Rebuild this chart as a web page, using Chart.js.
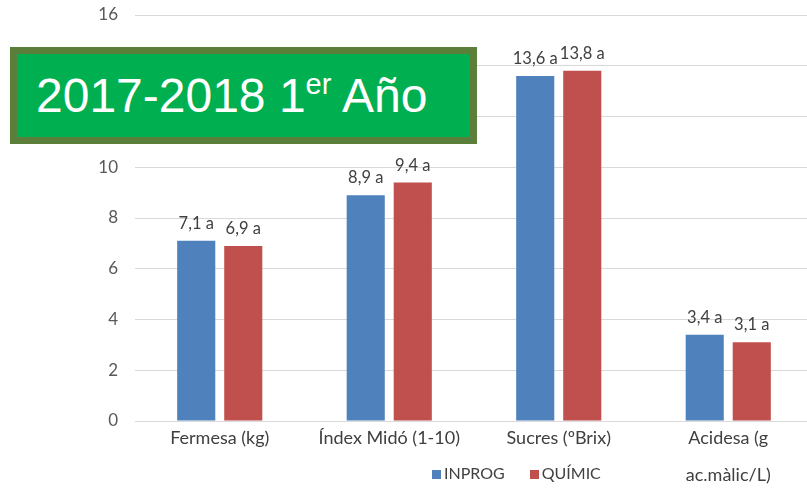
<!DOCTYPE html>
<html>
<head>
<meta charset="utf-8">
<script src="https://cdn.jsdelivr.net/npm/chart.js@4.4.1/dist/chart.umd.min.js"></script>
<style>
  html, body { margin: 0; padding: 0; background: #fff; overflow: hidden; width: 807px; height: 491px; }
  #wrap { position: relative; width: 807px; height: 491px; overflow: hidden; }
  #chart { position: absolute; left: 0; top: 0; }
  #title {
    position: absolute; left: 10px; top: 47px; width: 434px; height: 83px;
    background: #00b050; border: 7px solid #5b7f3a;
    color: #fff; font-family: "Liberation Sans", Arial, sans-serif; font-size: 48px;
    line-height: 83px; padding-left: 19px; white-space: nowrap;
  }
  #title sup { font-size: 29px; vertical-align: 0; position: relative; top: -18px; }
  #legend {
    position: absolute; left: 432px; top: 463px; font-family: Lato, sans-serif;
    font-size: 16px; color: #404040; white-space: nowrap;
  }
  #legend span.sw { display: inline-block; width: 9px; height: 9px; margin-right: 3px; vertical-align: 0; }
  #legend span.item { margin-right: 25px; }
</style>
</head>
<body>
<div id="wrap">
  <canvas id="chart" width="815" height="491"></canvas>
  <div id="title">2017-2018 1<sup>er</sup> Año</div>
  <div id="legend"></div>
</div>
<script>
// Data
const categories = ["Fermesa (kg)", "Índex Midó (1-10)", "Sucres (ºBrix)", ["Acidesa (g", "ac.màlic/L)"]];
const seriesNames = ["INPROG", "QUÍMIC"];
const inprog = [7.1, 8.9, 13.6, 3.4];
const quimic = [6.9, 9.4, 13.8, 3.1];
const inprogLetters = ["a", "a", "a", "a"];
const quimicLetters = ["a", "a", "a", "a"];
const yTicks = [0, 2, 4, 6, 8, 10, 12, 14, 16];

const colors = ["#4f81bd", "#c0504d"];
const letters = [inprogLetters, quimicLetters];

// value labels above bars
const valueLabels = {
  id: "valueLabels",
  afterDatasetsDraw(chart) {
    const ctx = chart.ctx;
    ctx.save();
    ctx.font = "16.5px Lato, sans-serif";
    ctx.fillStyle = "#404040";
    ctx.textAlign = "center";
    ctx.textBaseline = "bottom";
    chart.data.datasets.forEach((ds, i) => {
      chart.getDatasetMeta(i).data.forEach((bar, j) => {
        const txt = String(ds.data[j]).replace(".", ",") + " " + letters[i][j];
        ctx.fillText(txt, bar.x, bar.y - 9);
      });
    });
    ctx.restore();
  }
};

new Chart(document.getElementById("chart").getContext("2d"), {
  type: "bar",
  data: {
    labels: categories,
    datasets: [
      { label: seriesNames[0], data: inprog, backgroundColor: colors[0] },
      { label: seriesNames[1], data: quimic, backgroundColor: colors[1] }
    ]
  },
  options: {
    responsive: false,
    animation: false,
    layout: { padding: { top: 15, right: 2, bottom: 0, left: 0 } },
    datasets: { bar: { categoryPercentage: 0.555, barPercentage: 0.81 } },
    plugins: { legend: { display: false }, tooltip: { enabled: false } },
    scales: {
      x: {
        grid: { display: false },
        border: { display: false },
        ticks: {
          color: "#404040",
          font: { family: "Lato, sans-serif", size: 18, lineHeight: 2.05 },
          padding: -9,
          maxRotation: 0, autoSkip: false
        },
        afterFit: (s) => { s.height = 70; }
      },
      y: {
        min: 0, max: 16,
        afterBuildTicks: (s) => { s.ticks = yTicks.map(v => ({ value: v })); },
        grid: { color: "#d9d9d9", drawTicks: false },
        border: { display: false },
        ticks: {
          color: "#595959",
          font: { family: "Lato, sans-serif", size: 17 },
          padding: 17
        },
        afterFit: (s) => { s.width = 135; s.paddingTop = 0; s.paddingBottom = 0; }
      }
    }
  },
  plugins: [valueLabels]
});

// legend
document.getElementById("legend").innerHTML = seriesNames.map((n, i) =>
  `<span class="item"><span class="sw" style="background:${colors[i]}"></span>${n}</span>`
).join("");
</script>
</body>
</html>
